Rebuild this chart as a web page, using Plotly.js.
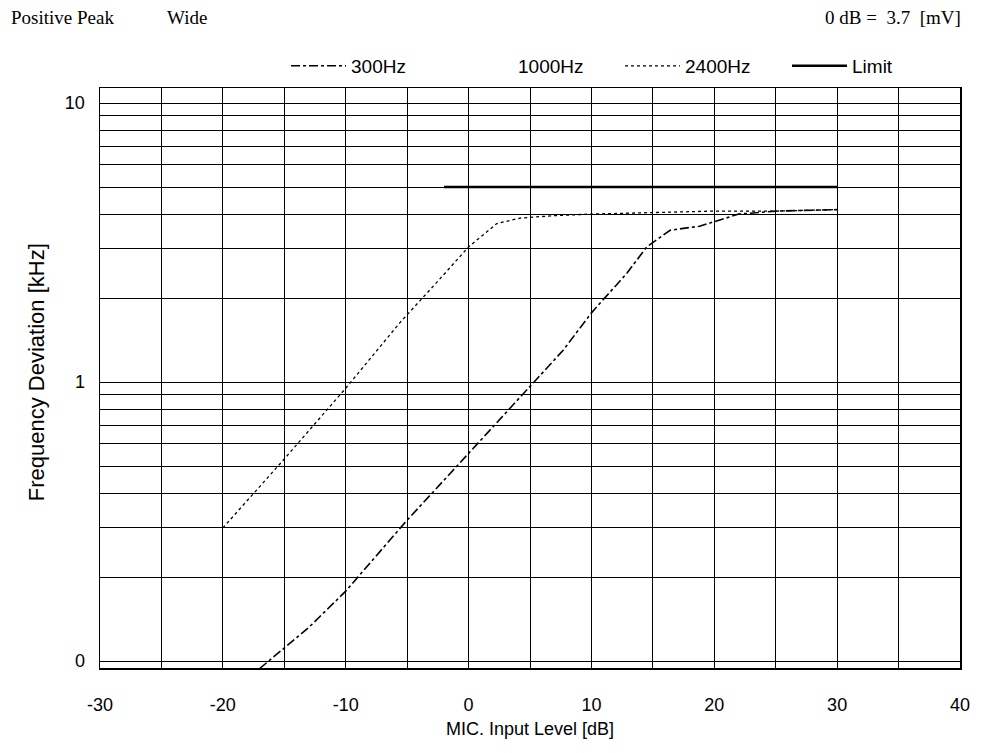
<!DOCTYPE html>
<html>
<head>
<meta charset="utf-8">
<script src="https://cdn.plot.ly/plotly-3.0.1.min.js"></script>
<style>html,body{margin:0;padding:0;background:#fff;}#chart{width:996px;height:753px;}</style>
</head>
<body>
<div id="chart"></div>
<script>
// MIC input level [dB] and frequency deviation [kHz]
const x300 = [-17, -13, -10, -5, -1.5, 2.7, 7.7, 10, 12.9, 14.5, 15.3, 16.4, 18.8, 20.4, 22, 25, 30];
const y300 = [0.094, 0.132, 0.178, 0.32, 0.47, 0.75, 1.30, 1.77, 2.46, 3.05, 3.23, 3.5, 3.62, 3.8, 4.0, 4.1, 4.15];
const x1000 = [null];
const y1000 = [null];
const x2400 = [-20, -15, -10, -5.6, -2.5, 0, 2.3, 4.2, 7, 10, 15, 20, 25, 30];
const y2400 = [0.30, 0.53, 0.95, 1.63, 2.3, 3.05, 3.7, 3.87, 3.95, 4.0, 4.05, 4.1, 4.1, 4.15];
const xLimit = [-2, 30];
const yLimit = [5, 5];

const xTickVals = [-30, -25, -20, -15, -10, -5, 0, 5, 10, 15, 20, 25, 30, 35, 40];
const xTickText = ['-30', '', '-20', '', '-10', '', '0', '', '10', '', '20', '', '30', '', '40'];
const yTickVals = [0.1,0.2,0.3,0.4,0.5,0.6,0.7,0.8,0.9,1,2,3,4,5,6,7,8,9,10];
const yTickText = ['0','','','','','','','','','1','','','','','','','','','10'];

const font = "Liberation Sans, Arial, sans-serif";
const serif = "Liberation Serif, Times New Roman, serif";

const traces = [
  {x: x300, y: y300, name: '300Hz', mode: 'lines', line: {color: '#000', width: 1.6, dash: 'dashdot'}},
  {x: x1000, y: y1000, name: '1000Hz', mode: 'lines', line: {color: 'rgba(0,0,0,0)', width: 1}},
  {x: x2400, y: y2400, name: '2400Hz', mode: 'lines', line: {color: '#000', width: 1.3, dash: 'dot'}},
  {x: xLimit, y: yLimit, name: 'Limit', mode: 'lines', line: {color: '#000', width: 2.5}}
];

const layout = {
  width: 996, height: 753,
  margin: {l: 100, r: 36, t: 88, b: 85},
  paper_bgcolor: '#fff', plot_bgcolor: '#fff',
  font: {family: font, size: 18, color: '#000'},
  showlegend: true,
  legend: {orientation: 'h', x: 0.2163, y: 1.038, xanchor: 'left', yanchor: 'middle',
           font: {family: font, size: 19, color: '#000'}, itemwidth: 55, entrywidth: 97,
           bgcolor: 'rgba(0,0,0,0)', traceorder: 'normal'},
  xaxis: {range: [-30, 40], tickmode: 'array', tickvals: xTickVals, ticktext: xTickText,
          showgrid: true, gridcolor: '#000', gridwidth: 1, zeroline: false,
          showline: true, linecolor: '#000', linewidth: 1.5, mirror: true,
          ticks: '', ticklabelstandoff: 20, tickfont: {family: font, size: 18},
          title: {text: 'MIC. Input Level [dB]', font: {family: font, size: 18}, standoff: 8}},
  yaxis: {type: 'log', range: [-1.025, 1.054], tickmode: 'array', tickvals: yTickVals, ticktext: yTickText,
          showgrid: true, gridcolor: '#000', gridwidth: 1, zeroline: false,
          showline: true, linecolor: '#000', linewidth: 1.5, mirror: true,
          ticks: '', ticklabelstandoff: 10, tickfont: {family: font, size: 18}},
  annotations: [
    {text: 'Frequency Deviation [kHz]', xref: 'paper', yref: 'paper', x: -0.0744, y: 0.51, xanchor: 'center', yanchor: 'middle', textangle: -90, showarrow: false, font: {family: font, size: 22}},
    {text: 'Positive Peak', xref: 'paper', yref: 'paper', x: -0.106, y: 1.121, xanchor: 'left', yanchor: 'middle', showarrow: false, font: {family: serif, size: 19}},
    {text: 'Wide', xref: 'paper', yref: 'paper', x: 0.076, y: 1.121, xanchor: 'left', yanchor: 'middle', showarrow: false, font: {family: serif, size: 19}},
    {text: '0 dB =  3.7  [mV]', xref: 'paper', yref: 'paper', x: 1.003, y: 1.121, xanchor: 'right', yanchor: 'middle', showarrow: false, font: {family: serif, size: 19}}
  ]
};

Plotly.newPlot('chart', traces, layout, {displayModeBar: false, staticPlot: true});
</script>
</body>
</html>
